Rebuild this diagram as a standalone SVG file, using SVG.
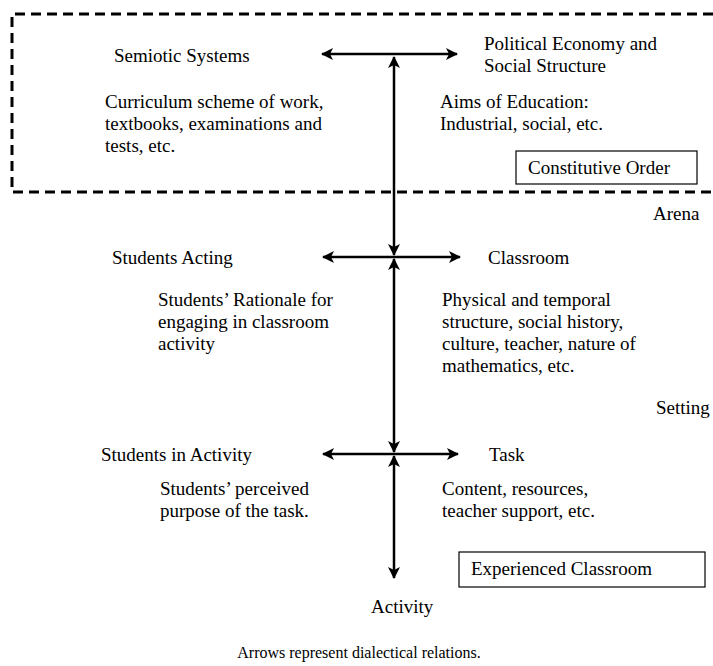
<svg xmlns="http://www.w3.org/2000/svg" width="713" height="666" viewBox="0 0 713 666">
<defs>
<marker id="ah" viewBox="0 0 12 12" refX="11" refY="6" markerWidth="12" markerHeight="12" markerUnits="userSpaceOnUse" orient="auto-start-reverse">
<path d="M0,0 L12,6 L0,12 L3,6 z" fill="#000"/>
</marker>
</defs>
<style>
text{font-family:"Liberation Serif","Times New Roman",serif;font-size:19px;fill:#000}
.cap{font-size:16px}
.box{fill:none;stroke:#000;stroke-width:1.2}
.arr{stroke:#000;stroke-width:2.5;fill:none;marker-start:url(#ah);marker-end:url(#ah)}
.dash{fill:none;stroke:#000;stroke-width:3;stroke-dasharray:10 6}
</style>
<rect width="713" height="666" fill="#fff"/>
<path class="dash" d="M713,14 H12 V192 H713"/>
<g id="connectors">
<line class="arr" x1="322" y1="54" x2="457" y2="54"/>
<line class="arr" x1="394" y1="57" x2="394" y2="255"/>
<line class="arr" x1="323" y1="257" x2="460" y2="257"/>
<line class="arr" x1="394" y1="259" x2="394" y2="452"/>
<line class="arr" x1="323" y1="454" x2="458" y2="454"/>
<line class="arr" x1="394" y1="456" x2="394" y2="578"/>
</g>
<g id="semiotic"><text x="114" y="62">Semiotic Systems</text>
<text x="105" y="108">Curriculum scheme of work,</text>
<text x="105" y="130">textbooks, examinations and</text>
<text x="105" y="152">tests, etc.</text></g>
<g id="political"><text x="484" y="50">Political Economy and</text>
<text x="484" y="72">Social Structure</text>
<text x="440" y="108">Aims of Education:</text>
<text x="440" y="130">Industrial, social, etc.</text></g>
<g id="constitutive"><rect class="box" x="516" y="151" width="181" height="33"/>
<text x="528" y="174">Constitutive Order</text></g>
<g id="arena"><text x="653" y="220">Arena</text></g>
<g id="students-acting"><text x="112" y="264">Students Acting</text>
<text x="158" y="306">Students’ Rationale for</text>
<text x="158" y="328">engaging in classroom</text>
<text x="158" y="350">activity</text></g>
<g id="classroom"><text x="488" y="264">Classroom</text>
<text x="442" y="306">Physical and temporal</text>
<text x="442" y="328">structure, social history,</text>
<text x="442" y="350">culture, teacher, nature of</text>
<text x="442" y="372">mathematics, etc.</text></g>
<g id="setting"><text x="656" y="414">Setting</text></g>
<g id="students-activity"><text x="101" y="461">Students in Activity</text>
<text x="160" y="495">Students’ perceived</text>
<text x="160" y="517">purpose of the task.</text></g>
<g id="task"><text x="489" y="461">Task</text>
<text x="442" y="495">Content, resources,</text>
<text x="442" y="517">teacher support, etc.</text></g>
<g id="experienced"><rect class="box" x="459" y="552" width="246" height="35"/>
<text x="471" y="575">Experienced Classroom</text></g>
<g id="activity"><text x="371" y="613">Activity</text></g>
<g id="caption"><text class="cap" x="359" y="658" text-anchor="middle">Arrows represent dialectical relations.</text></g>
</svg>
